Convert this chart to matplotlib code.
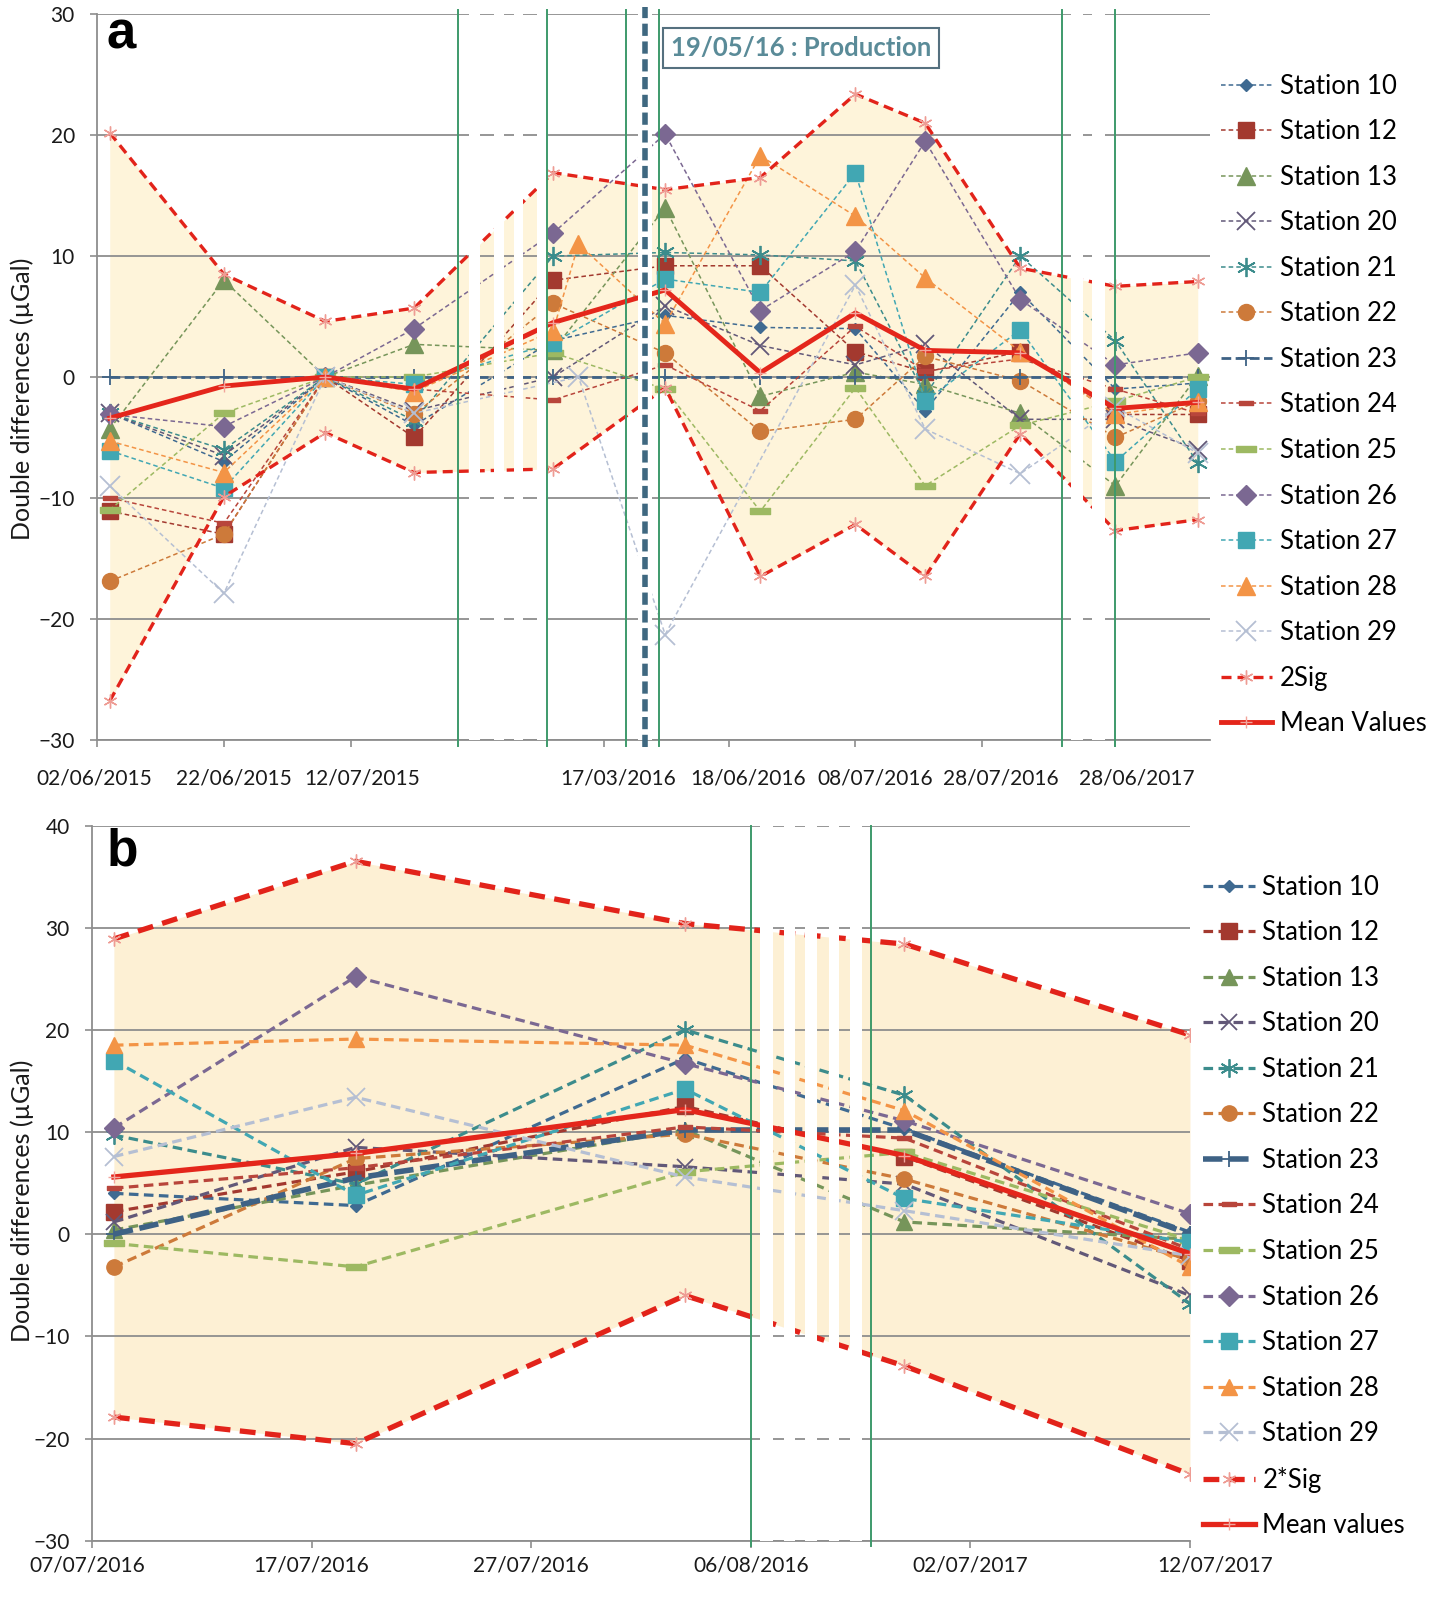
import numpy as np
import matplotlib
matplotlib.use('Agg')
import matplotlib.pyplot as plt
import matplotlib.dates as mdates
import matplotlib.transforms as mtransforms

plt.rcParams['font.family'] = ['Lato', 'DejaVu Sans']

nan = np.nan

# ======================= DATA : panel a =======================
dates_a = ['2015-06-04', '2015-06-22', '2015-07-08', '2015-07-22', '2016-03-09',
           '2016-03-13', '2016-06-08', '2016-06-23', '2016-07-08', '2016-07-19',
           '2016-08-03', '2017-06-28', '2017-07-11']
a_st10 = [-3.0, -7.0, 0, -4.0, 3.0, nan, 5.1, 4.1, 4.0, -2.8, 7.0, -1.0, -0.5]
a_st12 = [-11.1, -13.0, 0, -5.0, 8.0, nan, 9.2, 9.2, 2.1, 0.4, 2.1, -3.1, -3.1]
a_st13 = [-4.3, 8.0, 0, 2.7, 2.2, nan, 14.0, -1.6, 0.4, -0.6, -3.0, -9.0, 0.1]
a_st20 = [-3.0, -6.5, 0, -2.8, 0.0, nan, 5.9, 2.6, 1.0, 2.7, -3.5, -3.5, -6.0]
a_st21 = [-3.0, -6.0, 0, -3.6, 10.0, nan, 10.3, 10.1, 9.6, -1.5, 10.0, 3.0, -7.1]
a_st22 = [-16.9, -13.0, 0, -3.1, 6.1, nan, 2.0, -4.5, -3.5, 1.7, -0.3, -5.0, -2.0]
a_st23 = [0, 0, 0, 0, 0, nan, 0, 0, 0, 0, 0, 0, 0]
a_st24 = [-10.0, -12.1, 0, -1.0, -1.9, nan, 1.0, -2.8, 4.2, 0.5, 1.5, -1.0, -3.0]
a_st25 = [-11.0, -3.0, 0, 0.0, 2.0, nan, -1.0, -11.1, -0.9, -9.0, -4.0, -2.0, 0.0]
a_st26 = [-3.1, -4.1, 0, 4.0, 11.9, nan, 20.1, 5.5, 10.4, 19.5, 6.4, 1.0, 2.0]
a_st27 = [-6.1, -9.2, 0, -0.6, 2.8, nan, 8.1, 7.0, 16.9, -2.0, 3.9, -7.0, -1.0]
a_st28 = [-5.3, -7.9, 0, -1.2, 3.8, 11.0, 4.4, 18.3, 13.3, 8.2, 2.1, -3.1, -2.1]
a_st29 = [-9.0, -17.9, 0, -3.0, nan, 0.0, -21.3, nan, 7.6, -4.3, -8.0, -2.5, -6.3]
a_sig_up = [20.2, 8.5, 4.6, 5.7, 16.9, nan, 15.5, 16.5, 23.4, 21.0, 9.0, 7.5, 7.9]
a_sig_low = [-26.8, -9.9, -4.6, -7.9, -7.6, nan, -0.9, -16.5, -12.2, -16.5, -4.7, -12.7, -11.8]
a_mean = [-3.4, -0.75, 0, -1.0, 4.5, nan, 7.2, 0.35, 5.3, 2.2, 2.0, -2.6, -2.1]

tick_dates_a = ['2015-06-02', '2015-06-22', '2015-07-12', '2016-03-17',
                '2016-06-18', '2016-07-08', '2016-07-28', '2017-06-28']
tick_labels_a = ['02/06/2015', '22/06/2015', '12/07/2015', '17/03/2016',
                 '18/06/2016', '08/07/2016', '28/07/2016', '28/06/2017']
production_date = '2016-05-19'
production_label = '19/05/16 : Production'

# ======================= DATA : panel b =======================
dates_b = ['2016-07-08', '2016-07-19', '2016-08-03', '2017-06-29', '2017-07-12']
b_st10 = [4.0, 2.8, 17.2, 10.3, 0.2]
b_st12 = [2.2, 6.1, 12.5, 7.6, -2.6]
b_st13 = [0.4, 4.8, 10.2, 1.2, -0.5]
b_st20 = [1.2, 8.5, 6.6, 4.9, -6.0]
b_st21 = [9.7, 4.9, 20.0, 13.6, -6.8]
b_st22 = [-3.2, 7.4, 9.8, 5.4, -2.5]
b_st23 = [0.0, 5.5, 10.2, 10.2, 0.0]
b_st24 = [4.5, 6.5, 10.5, 9.4, -1.5]
b_st25 = [-0.9, -3.2, 6.1, 8.0, -0.6]
b_st26 = [10.4, 25.2, 16.7, 11.1, 2.0]
b_st27 = [17.0, 3.8, 14.2, 3.5, -0.8]
b_st28 = [18.5, 19.1, 18.5, 12.1, -3.2]
b_st29 = [7.6, 13.4, 5.6, 2.3, -2.1]
b_sig_up = [28.9, 36.5, 30.4, 28.4, 19.5]
b_sig_low = [-17.9, -20.5, -6.0, -12.9, -23.5]
b_mean = [5.6, 7.9, 12.2, 7.7, -1.9]

tick_dates_b = ['2016-07-07', '2016-07-17', '2016-07-27', '2016-08-06',
                '2017-07-02', '2017-07-12']
tick_labels_b = ['07/07/2016', '17/07/2016', '27/07/2016', '06/08/2016',
                 '02/07/2017', '12/07/2017']

station_names = ['Station 10', 'Station 12', 'Station 13', 'Station 20', 'Station 21',
                 'Station 22', 'Station 23', 'Station 24', 'Station 25', 'Station 26',
                 'Station 27', 'Station 28', 'Station 29']
stations_a = [a_st10, a_st12, a_st13, a_st20, a_st21, a_st22, a_st23,
              a_st24, a_st25, a_st26, a_st27, a_st28, a_st29]
stations_b = [b_st10, b_st12, b_st13, b_st20, b_st21, b_st22, b_st23,
              b_st24, b_st25, b_st26, b_st27, b_st28, b_st29]

# ======================= STYLES =======================
DASH = [(-1, -0.3), (1, -0.3), (1, 0.3), (-1, 0.3), (-1, -0.3)]
STAR = (6, 2, 0)
styles = [
    dict(color='#3F6A91', marker='D', ms=5.5, mew=1.0),
    dict(color='#A3392F', marker='s', ms=10, mew=1.0),
    dict(color='#76955A', marker='^', ms=11, mew=1.0),
    dict(color='#625878', marker='x', ms=11, mew=1.3),
    dict(color='#3C8C8C', marker=STAR, ms=12, mew=1.3),
    dict(color='#CD7A3A', marker='o', ms=10, mew=1.0),
    dict(color='#3E6285', marker='+', ms=10, mew=1.3),
    dict(color='#B8453B', marker=DASH, ms=9, mew=1.0),
    dict(color='#9DB962', marker=DASH, ms=13, mew=1.0),
    dict(color='#7B6892', marker='D', ms=9, mew=1.0),
    dict(color='#41A7B3', marker='s', ms=10, mew=1.0),
    dict(color='#F39446', marker='^', ms=11, mew=1.0),
    dict(color='#B5BFD3', marker='x', ms=12, mew=1.3),
]
GRID = '#8E8E8E'
GREEN = '#3E9A6B'
RED = '#E2231A'

W, H = 1399.0, 1568.0   # layout reference units


def d2n(s):
    return mdates.datestr2num(s)


def make_scale(knots):
    xs = np.array([d2n(k[0]) for k in knots])
    ps = np.array([k[1] for k in knots], float)
    s0 = (ps[1] - ps[0]) / (xs[1] - xs[0])
    s1 = (ps[-1] - ps[-2]) / (xs[-1] - xs[-2])

    def fwd(x):
        x = np.asarray(x, float)
        y = np.interp(x, xs, ps)
        y = np.where(x < xs[0], ps[0] + (x - xs[0]) * s0, y)
        y = np.where(x > xs[-1], ps[-1] + (x - xs[-1]) * s1, y)
        return y

    def inv(p):
        p = np.asarray(p, float)
        y = np.interp(p, ps, xs)
        y = np.where(p < ps[0], xs[0] + (p - ps[0]) / s0, y)
        y = np.where(p > ps[-1], xs[-1] + (p - ps[-1]) / s1, y)
        return y
    return fwd, inv


def draw_panel(fig, ax, dates, stations, up, low, mean, cfg):
    fwd, inv = make_scale(cfg['knots'])
    ax.set_xscale('function', functions=(fwd, inv))
    ax.set_xlim(d2n(cfg['xlim'][0]), d2n(cfg['xlim'][1]))
    ax.set_ylim(cfg['ylim'])
    x = d2n(dates)
    up = np.asarray(up, float)
    low = np.asarray(low, float)
    mean = np.asarray(mean, float)
    m = ~np.isnan(up)
    ax.fill_between(x[m], low[m], up[m], color=cfg['fill'], lw=0, zorder=1)

    handles = []
    for name, vals, st in zip(station_names, stations, styles):
        v = np.asarray(vals, float)
        mm = ~np.isnan(v)
        if name == 'Station 23':
            lw, dash = cfg['lw_23'], cfg['dash_23']
        else:
            lw, dash = cfg['lw_st'], cfg['dash_st']
        h, = ax.plot(x[mm], v[mm], color=st['color'], lw=lw, ls=(0, dash),
                     marker=st['marker'], ms=st['ms'] * cfg['msf'], mew=st['mew'],
                     mfc=st['color'], mec=st['color'], zorder=3, label=name)
        handles.append(h)
    hs, = ax.plot(x[m], up[m], color=RED, lw=cfg['lw_sig'], ls=(0, cfg['dash_sig']),
                  marker=STAR, ms=10, mew=1.0, mec='#EE9C94', zorder=3.5,
                  label=cfg['sig_label'])
    ax.plot(x[m], low[m], color=RED, lw=cfg['lw_sig'], ls=(0, cfg['dash_sig']),
            marker=STAR, ms=10, mew=1.0, mec='#EE9C94', zorder=3.5)
    mm = ~np.isnan(mean)
    hm, = ax.plot(x[mm], mean[mm], color='#E4261B', lw=cfg['lw_mean'], marker='+',
                  ms=8, mew=1.0, mec='#F2A59C', zorder=3.6, label=cfg['mean_label'])
    handles += [hs, hm]

    # grid / spines
    ax.set_yticks(cfg['yticks'])
    ax.yaxis.grid(True, color=GRID, lw=1.3)
    ax.set_axisbelow('line')
    for t in ax.yaxis.get_major_ticks():
        if t.get_loc() in cfg['hide_grid']:
            t.gridline.set_visible(False)
    for s in ['top', 'right']:
        ax.spines[s].set_visible(False)
    for s in ['left', 'bottom']:
        ax.spines[s].set_color(GRID)
        ax.spines[s].set_linewidth(1.3)
    ax.tick_params(axis='y', direction='out', length=5, width=1.2, color=GRID,
                   labelsize=15, pad=cfg['ypad'], labelcolor='#1a1a1a')
    ax.tick_params(axis='x', direction='out', length=5, width=1.2, color=GRID)
    ax.set_xticks(d2n(cfg['tick_dates']))
    ax.set_xticklabels([])
    ax.xaxis.set_minor_locator(matplotlib.ticker.NullLocator())
    blend = mtransforms.blended_transform_factory(ax.transData, ax.transAxes)
    for d, lab, off in zip(cfg['tick_dates'], cfg['tick_labels'], cfg['label_off']):
        tr = blend + mtransforms.ScaledTranslation(off * 1.0214 / 100, 0, fig.dpi_scale_trans)
        ax.text(d2n(d), cfg['label_y'], lab, transform=tr, ha='center', va='center',
                fontsize=15, color='#1a1a1a', clip_on=False)

    # axis-break decorations (white stripes in layout units)
    for p0, p1 in cfg['stripes']:
        ax.axvspan(float(inv(p0)), float(inv(p1)), ymin=0, ymax=1.0, color='white',
                   lw=0, zorder=4)
    for g in cfg['greens']:
        ax.axvline(d2n(g), ymin=-0.008, ymax=cfg['green_top'], color=GREEN, lw=1.4,
                   zorder=5, clip_on=False)
    return handles


fig = plt.figure(figsize=(14.29, 16.02), dpi=100)

LEG = dict(loc='upper left', frameon=False, fontsize=18.5, handlelength=2.0,
           handletextpad=0.3, labelspacing=0.80, borderpad=0, borderaxespad=0)

# ---------------- panel a ----------------
ax_a = fig.add_axes([95 / W, 1 - 724 / H, (1185 - 95) / W, (724 - 14) / H])
cfg_a = dict(
    knots=[('2015-06-02', 94), ('2015-07-29', 448.5), ('2016-03-08', 535),
           ('2016-03-20T12:00', 613), ('2016-05-19', 631), ('2016-06-07', 645),
           ('2016-08-09T12:00', 1040), ('2017-06-24', 1068), ('2017-07-13', 1186)],
    xlim=('2015-06-02', '2017-07-13'), ylim=(-30, 30), yticks=list(range(-30, 31, 10)),
    hide_grid=[], fill='#FEF4DA', lw_st=1.1, dash_st=(3, 2), lw_23=2.0, dash_23=(3.5, 1.6),
    msf=1.15, lw_sig=2.4, dash_sig=(3, 1.8), lw_mean=3.5, sig_label='2Sig',
    mean_label='Mean Values', ypad=11, tick_dates=tick_dates_a, tick_labels=tick_labels_a,
    label_off=[-3, 10, 11, 14, 19, 19, 18, 21], label_y=-(762 - 724) / 710.0,
    stripes=[(459, 470), (483, 493), (503, 512), (526, 535), (625, 638),
             (1049, 1061), (1070, 1083)],
    greens=['2015-07-29', '2016-03-08', '2016-03-20T12:00', '2016-06-07',
            '2016-08-09T12:00', '2017-06-28'],
    green_top=1.006)
handles_a = draw_panel(fig, ax_a, dates_a, stations_a, a_sig_up, a_sig_low, a_mean, cfg_a)

ax_a.axvline(d2n(production_date), ymin=-0.01, ymax=1.01, color='#3F6880', lw=4,
             ls=(0, (2.2, 1.0)), zorder=6, clip_on=False)
ax_a.text((657 - 95) / 1090.0, (724 - 47) / 710.0, production_label, transform=ax_a.transAxes,
          ha='left', va='center', fontsize=18.5, fontweight='bold', color='#5A8B98', zorder=7,
          bbox=dict(boxstyle='square,pad=0.3', fc='white', ec='#55707F', lw=1.5))

fig.legend(handles_a, [h.get_label() for h in handles_a],
           bbox_to_anchor=(1195 / W, 1 - 72 / H), **LEG)

# ---------------- panel b ----------------
ax_b = fig.add_axes([90 / W, 1 - 1508 / H, (1165 - 90) / W, (1508 - 808) / H])
cfg_b = dict(
    knots=[('2016-07-07', 90), ('2016-08-06', 735), ('2017-06-27T12:00', 853),
           ('2017-07-12', 1164.75)],
    xlim=('2016-07-07', '2017-07-12'), ylim=(-30, 40), yticks=list(range(-30, 41, 10)),
    hide_grid=[40], fill='#FDF0D4', lw_st=2.3, dash_st=(3, 1.7), lw_23=4.0, dash_23=(3.5, 1.2),
    msf=1.1, lw_sig=3.8, dash_sig=(3, 1.8), lw_mean=3.8, sig_label='2*Sig',
    mean_label='Mean values', ypad=11, tick_dates=tick_dates_b, tick_labels=tick_labels_b,
    label_off=[-5, 0, 0, 0, 0, 25], label_y=-(1532 - 1508) / 700.0,
    stripes=[(744, 757), (767, 778), (788, 800), (811, 821), (832, 844)],
    greens=['2016-08-06', '2017-06-27T12:00'],
    green_top=1.0)
handles_b = draw_panel(fig, ax_b, dates_b, stations_b, b_sig_up, b_sig_low, b_mean, cfg_b)

fig.legend(handles_b, [h.get_label() for h in handles_b],
           bbox_to_anchor=(1178 / W, 1 - 856 / H), **LEG)

# ---------------- labels ----------------
fig.text(22 / W, 1 - 390 / H, 'Double differences (µGal)', rotation=90, ha='center',
         va='center', fontsize=18, color='#1a1a1a')
fig.text(22 / W, 1 - 1175 / H, 'Double differences (µGal)', rotation=90, ha='center',
         va='center', fontsize=18, color='#1a1a1a')
fig.text(104 / W, 1 - 47 / H, 'a', fontsize=38, fontweight='bold',
         family=['Liberation Sans', 'DejaVu Sans'], va='baseline', ha='left')
fig.text(104 / W, 1 - 847 / H, 'b', fontsize=37, fontweight='bold',
         family=['Liberation Sans', 'DejaVu Sans'], va='baseline', ha='left')

fig.savefig('out.png', dpi=100, facecolor='white')
